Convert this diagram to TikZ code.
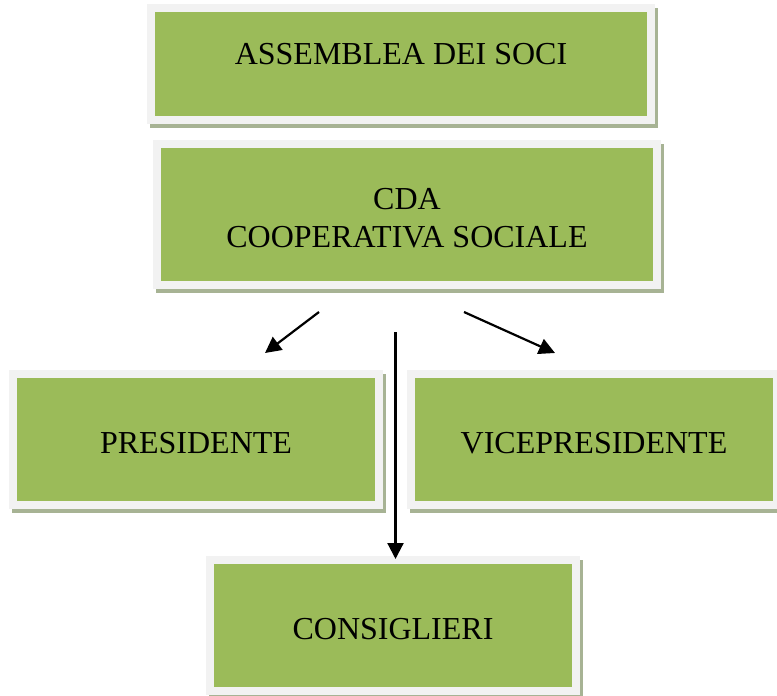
\documentclass[tikz,border=0pt]{standalone}
\usepackage{fontspec}
\setmainfont{Liberation Serif}
\usepackage{tikz}
\usetikzlibrary{positioning,arrows.meta,shadows}
\definecolor{boxgreen}{HTML}{9BBB59}
\definecolor{framegray}{HTML}{F2F2F2}
\definecolor{shadowgreen}{HTML}{A7B394}
\tikzset{
  orgbox/.style={rectangle, fill=boxgreen, draw=framegray, line width=8pt, outer sep=0pt,
                 font=\fontsize{32}{38}\selectfont, align=center,
                 drop shadow={shadow xshift=3pt, shadow yshift=-4pt, opacity=1,
                              fill=shadowgreen, draw=shadowgreen}},
  widebox/.style={orgbox, minimum width=500pt},
  smallbox/.style={orgbox, minimum width=366pt, minimum height=131pt,
                   text height=27pt, text depth=0pt},
  fwd/.style={-{Triangle[length=16pt,width=16pt]}, line width=2.2pt},
}

\begin{document}
\begin{tikzpicture}[x=1pt, y=-1pt]
\useasboundingbox (0,0) rectangle (777,696);
\clip (0,0) rectangle (777,696);
%Boxes
\node[widebox, minimum height=112pt, text depth=20pt] (assemblea) at (401,64) {ASSEMBLEA DEI SOCI};
\node[widebox, minimum height=141pt, text height=65.5pt, text depth=0pt] (cda) [below=24pt of assemblea, xshift=6pt] {CDA\\COOPERATIVA SOCIALE};
\node[smallbox] (presidente) at (196,439.5) {PRESIDENTE};
\node[smallbox] (vice) [right=32pt of presidente] {VICEPRESIDENTE};
\node[smallbox] (consiglieri) at (393,625.5) {CONSIGLIERI};

%Arrow ends
\coordinate (cdaleft) at (319,312);
\coordinate (presin) at (265,353);
\coordinate (cdaright) at (464,312);
\coordinate (vicein) at (555,353);
\coordinate (cdadown) at (395.5,332);
\coordinate (consin) at (395.5,559);

%Arrows
\draw[fwd] (cdaleft) -- (presin);
\draw[fwd] (cdaright) -- (vicein);
\draw[fwd] (cdadown) -- (consin);
\end{tikzpicture}
\end{document}
